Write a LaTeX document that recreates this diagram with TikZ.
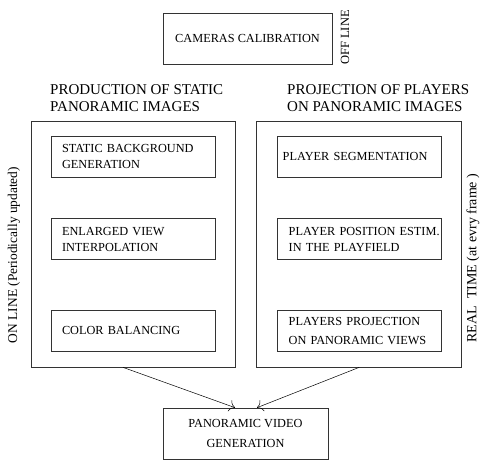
\documentclass[tikz,border=0pt]{standalone}
\usepackage{fontspec}
\setmainfont{Liberation Serif}
\usetikzlibrary{arrows.meta, positioning}
\tikzset{
  stage/.style={rectangle, draw=black!80, line width=0.7pt, minimum width=164pt,
    minimum height=41pt, text width=142pt, align=left, inner xsep=11pt,
    font=\fontsize{12.3}{16}\selectfont},
  group/.style={rectangle, draw=black!80, line width=0.7pt, minimum width=204pt,
    minimum height=246pt},
  heading/.style={align=left, inner sep=0pt, font=\fontsize{15}{17}\selectfont},
  sidelabel/.style={rotate=90, inner sep=0pt, font=\fontsize{13.4}{16}\selectfont},
  single/.style={rectangle, draw=black!80, line width=0.7pt, minimum width=169pt,
    minimum height=51pt, align=center, font=\fontsize{12.3}{20}\selectfont},
  arrowline/.style={-{To[length=2mm]}, line width=0.5pt}
}

\begin{document}
\begin{tikzpicture}[x=1pt, y=-1pt]
  \useasboundingbox (0,0) rectangle (487,459);
  % off line part
  \node[single] (calib) at (247.5,38.5) {CAMERAS CALIBRATION};
  \node[sidelabel, font=\fontsize{12.5}{14}\selectfont] (offline) at (345,37.5) {OFF LINE};

  % the two groups
  \node[group] (static) at (133,244) {};
  \node[group, minimum width=205pt, right=21pt of static] (players) {};
  \node[heading, anchor=south west] (statictitle) at (50,112) {PRODUCTION OF STATIC\\PANORAMIC IMAGES};
  \node[heading, anchor=south west] (playerstitle) at (287,112) {PROJECTION OF PLAYERS\\ON PANORAMIC IMAGES};

  % stages of the static part
  \node[stage] (background) at (133,156.5) {STATIC BACKGROUND\\GENERATION};
  \node[stage, below=41pt of background] (enlarged) {ENLARGED VIEW\\INTERPOLATION};
  \node[stage, below=50pt of enlarged] (color) {COLOR BALANCING};

  % stages of the players part
  \node[stage, inner xsep=5pt, text width=154pt, right=62pt of background] (segment) {PLAYER SEGMENTATION};
  \node[stage, right=62pt of enlarged] (position) {\mbox{PLAYER POSITION ESTIM.}\\IN THE PLAYFIELD};
  \node[stage, right=62pt of color, font=\fontsize{12.3}{19}\selectfont] (project) {PLAYERS PROJECTION\\ON PANORAMIC VIEWS};

  \node[sidelabel] (online) at (14,255) {ON LINE (Periodically updated)};
  \node[sidelabel, font=\fontsize{14}{16}\selectfont] (realtime) at (473,258) {REAL\ \ TIME (at evry frame )};

  % output
  \node[single, minimum width=165pt] (video) at (245.5,433.5) {PANORAMIC VIDEO\\GENERATION};

  \draw[arrowline] ([xshift=-10pt]static.south) -- ([xshift=-10.5pt]video.north);
  \draw[arrowline] (players.south) -- ([xshift=11.5pt]video.north);
\end{tikzpicture}
\end{document}
